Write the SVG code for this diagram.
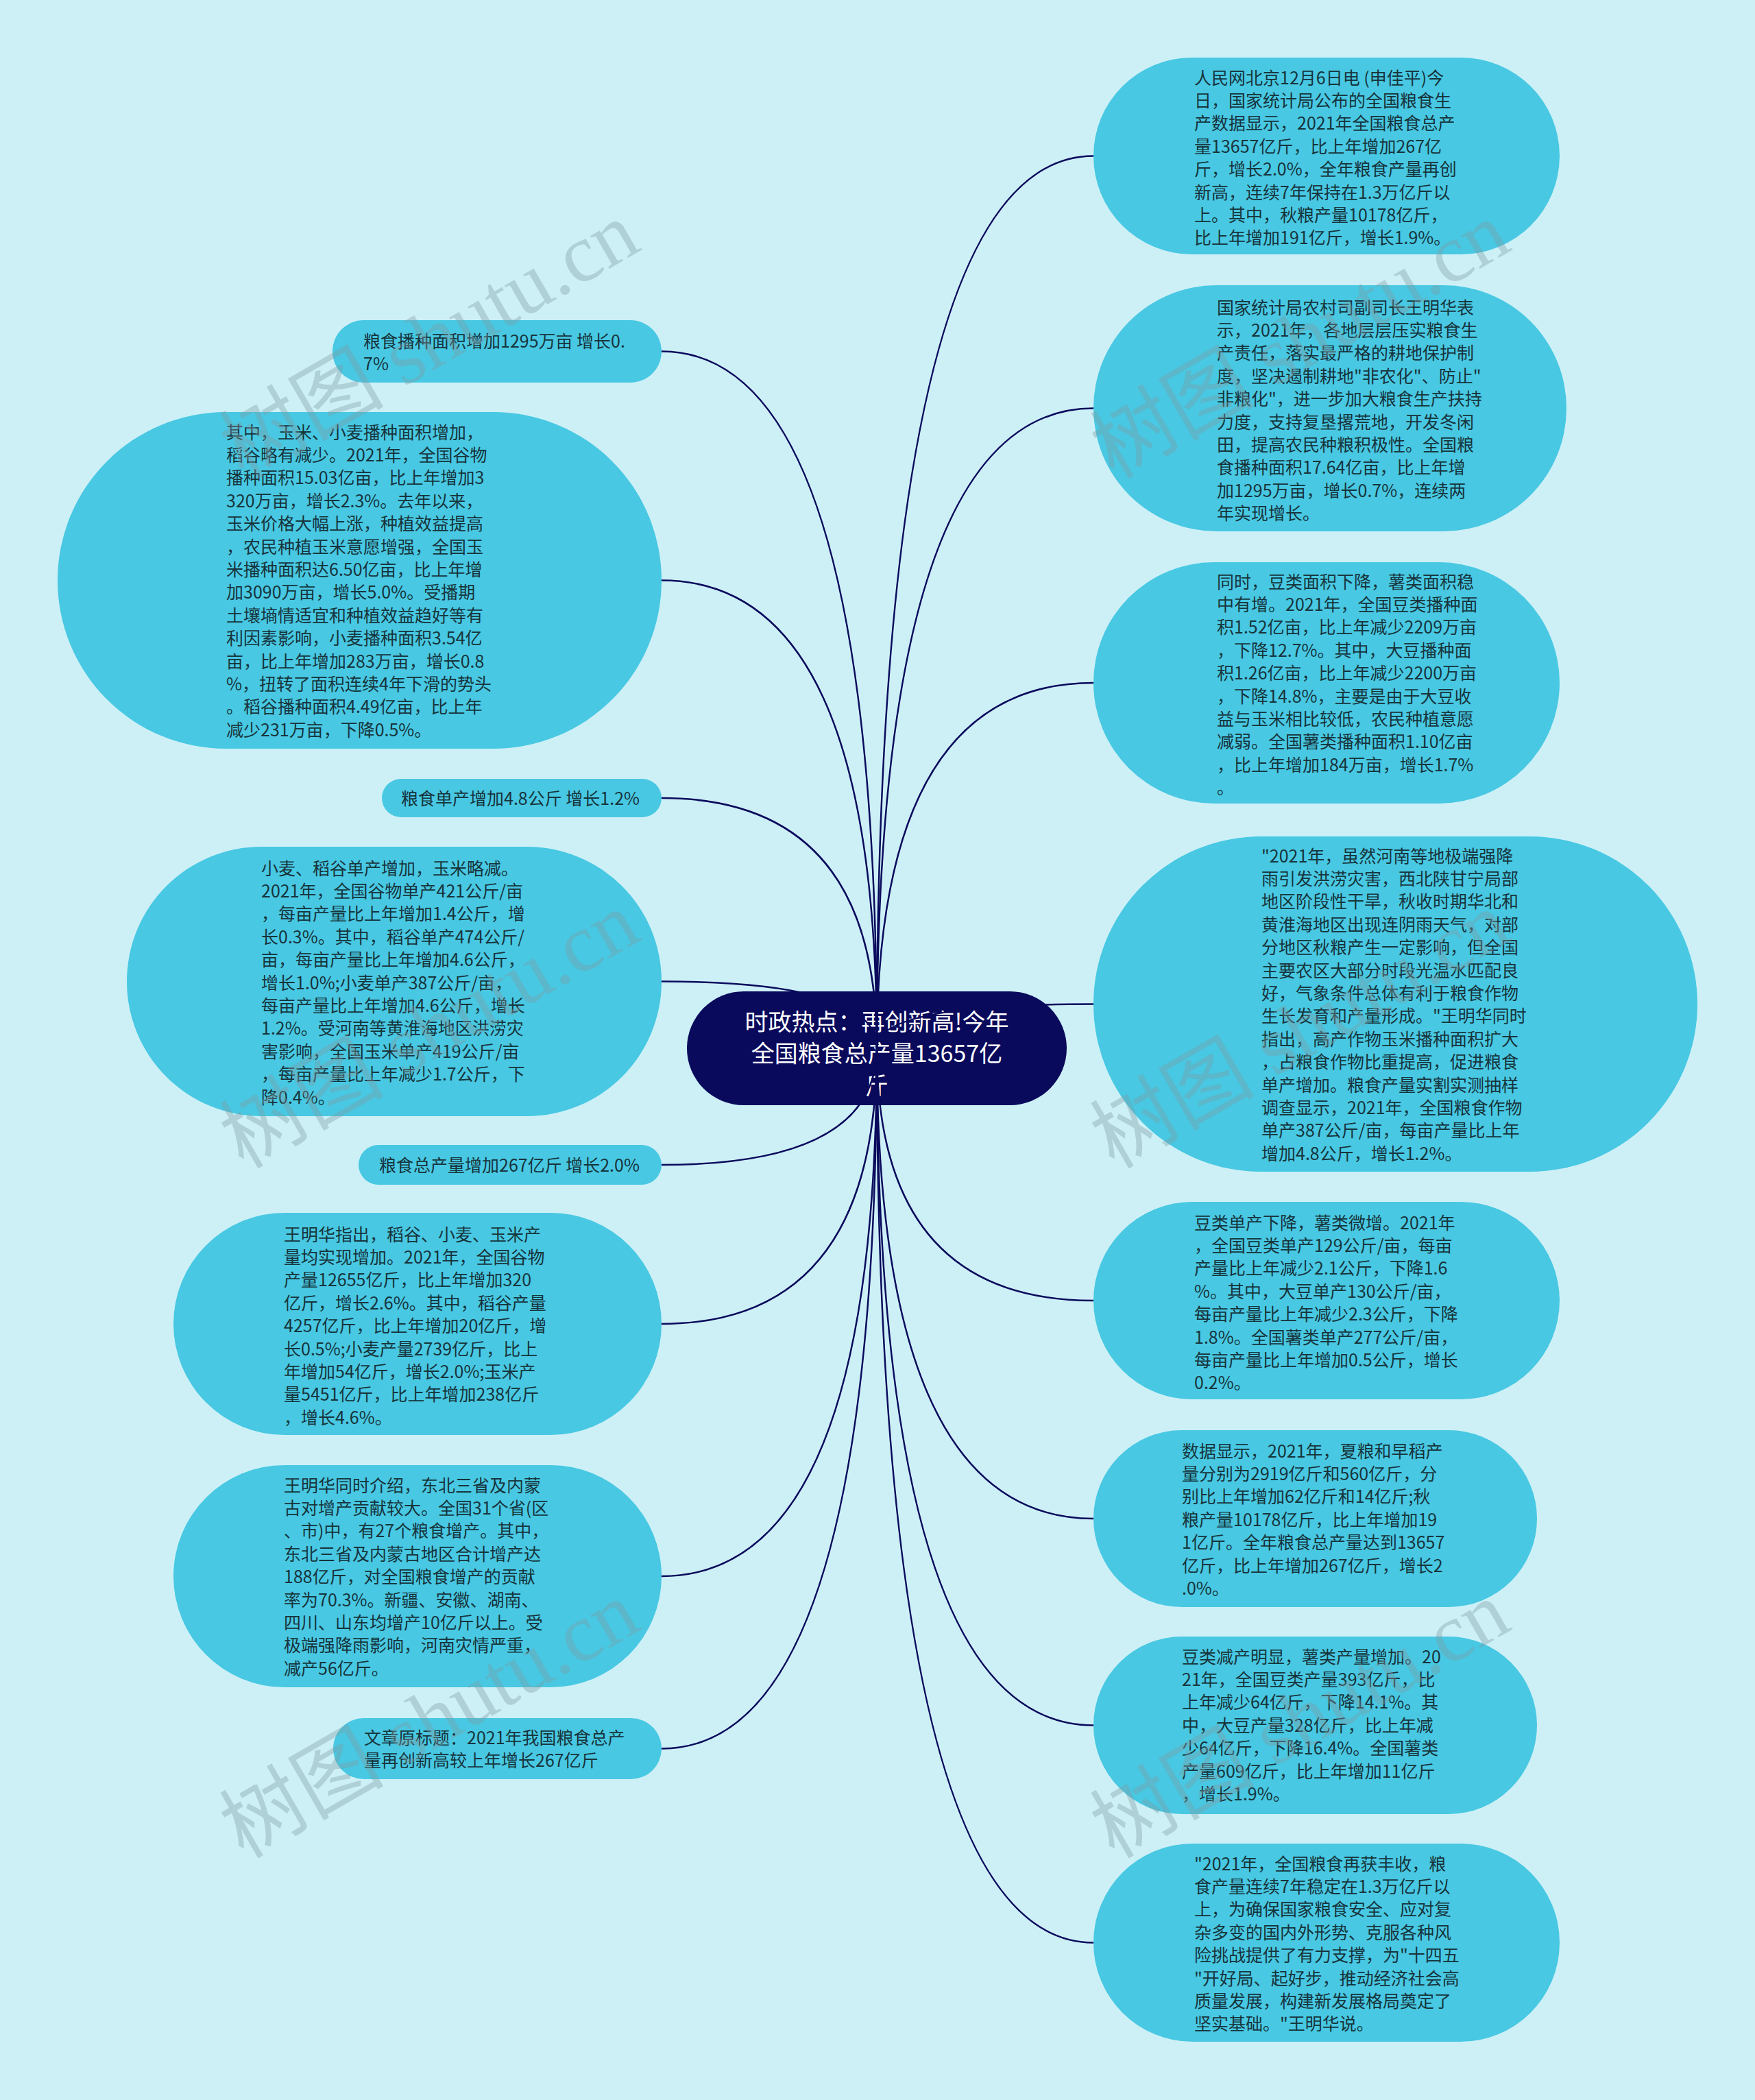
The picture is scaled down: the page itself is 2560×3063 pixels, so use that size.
<svg xmlns="http://www.w3.org/2000/svg" width="2560" height="3063" viewBox="0 0 2560 3063">
<style>
.node{fill:#48c8e2}
.t{font-family:"Noto Sans CJK SC","Noto Sans",sans-serif;font-size:25px;fill:#17343c}
.ct{font-family:"Noto Sans CJK SC","Noto Sans",sans-serif;font-size:34px;fill:#ffffff;text-anchor:middle}
.link{fill:none;stroke:#0a0a5c;stroke-width:2.5}
.wm{font-family:"Liberation Serif","Noto Sans CJK SC",serif;font-size:120px;fill:#7f9ba3;fill-opacity:0.38}
</style>
<rect x="0" y="0" width="2560" height="3063" fill="#cdf0f7"/>

<g id="center">
<rect x="1002" y="1446" width="554" height="166" rx="83" fill="#0a0a5c"/>
<text class="ct"><tspan x="1279" y="1503">时政热点：再创新高!今年</tspan><tspan x="1279" y="1549">全国粮食总产量13657亿</tspan><tspan x="1279" y="1596">斤</tspan></text>
</g>

<g id="connectors">
<path class="link" d="M1279,1528 Q1279,227.5 1595,227.5"/>
<path class="link" d="M1279,1528 Q1279,595.5 1595,595.5"/>
<path class="link" d="M1279,1528 Q1279,996 1595,996"/>
<path class="link" d="M1279,1528 Q1279,1464.5 1595,1464.5"/>
<path class="link" d="M1279,1528 Q1279,1897 1595,1897"/>
<path class="link" d="M1279,1528 Q1279,2215 1595,2215"/>
<path class="link" d="M1279,1528 Q1279,2516.5 1595,2516.5"/>
<path class="link" d="M1279,1528 Q1279,2833.5 1595,2833.5"/>
<path class="link" d="M1279,1528 Q1279,512.5 965,512.5"/>
<path class="link" d="M1279,1528 Q1279,846.5 965,846.5"/>
<path class="link" d="M1279,1528 Q1279,1164 965,1164"/>
<path class="link" d="M1279,1528 Q1279,1431.5 965,1431.5"/>
<path class="link" d="M1279,1528 Q1279,1699 965,1699"/>
<path class="link" d="M1279,1528 Q1279,1931 965,1931"/>
<path class="link" d="M1279,1528 Q1279,2299 965,2299"/>
<path class="link" d="M1279,1528 Q1279,2550.5 965,2550.5"/>
</g>

<g id="r1">
<rect class="node" x="1595" y="84" width="680" height="287" rx="143.5"/>
<text class="t"><tspan x="1742" y="122.5">人民网北京12月6日电 (申佳平)今</tspan><tspan x="1742" dy="33.4">日，国家统计局公布的全国粮食生</tspan><tspan x="1742" dy="33.4">产数据显示，2021年全国粮食总产</tspan><tspan x="1742" dy="33.4">量13657亿斤，比上年增加267亿</tspan><tspan x="1742" dy="33.4">斤，增长2.0%，全年粮食产量再创</tspan><tspan x="1742" dy="33.4">新高，连续7年保持在1.3万亿斤以</tspan><tspan x="1742" dy="33.4">上。其中，秋粮产量10178亿斤，</tspan><tspan x="1742" dy="33.4">比上年增加191亿斤，增长1.9%。</tspan></text>
</g>

<g id="r2">
<rect class="node" x="1595" y="416" width="690" height="359" rx="179.5"/>
<text class="t"><tspan x="1775" y="457.5">国家统计局农村司副司长王明华表</tspan><tspan x="1775" dy="33.4">示，2021年，各地层层压实粮食生</tspan><tspan x="1775" dy="33.4">产责任，落实最严格的耕地保护制</tspan><tspan x="1775" dy="33.4">度，坚决遏制耕地"非农化"、防止"</tspan><tspan x="1775" dy="33.4">非粮化"，进一步加大粮食生产扶持</tspan><tspan x="1775" dy="33.4">力度，支持复垦撂荒地，开发冬闲</tspan><tspan x="1775" dy="33.4">田，提高农民种粮积极性。全国粮</tspan><tspan x="1775" dy="33.4">食播种面积17.64亿亩，比上年增</tspan><tspan x="1775" dy="33.4">加1295万亩，增长0.7%，连续两</tspan><tspan x="1775" dy="33.4">年实现增长。</tspan></text>
</g>

<g id="r3">
<rect class="node" x="1595" y="820" width="680" height="352" rx="176"/>
<text class="t"><tspan x="1775" y="857.5">同时，豆类面积下降，薯类面积稳</tspan><tspan x="1775" dy="33.4">中有增。2021年，全国豆类播种面</tspan><tspan x="1775" dy="33.4">积1.52亿亩，比上年减少2209万亩</tspan><tspan x="1775" dy="33.4">，下降12.7%。其中，大豆播种面</tspan><tspan x="1775" dy="33.4">积1.26亿亩，比上年减少2200万亩</tspan><tspan x="1775" dy="33.4">，下降14.8%，主要是由于大豆收</tspan><tspan x="1775" dy="33.4">益与玉米相比较低，农民种植意愿</tspan><tspan x="1775" dy="33.4">减弱。全国薯类播种面积1.10亿亩</tspan><tspan x="1775" dy="33.4">，比上年增加184万亩，增长1.7%</tspan><tspan x="1775" dy="33.4">。</tspan></text>
</g>

<g id="r4">
<rect class="node" x="1595" y="1220" width="881" height="489" rx="244.5"/>
<text class="t"><tspan x="1840" y="1257.5">"2021年，虽然河南等地极端强降</tspan><tspan x="1840" dy="33.4">雨引发洪涝灾害，西北陕甘宁局部</tspan><tspan x="1840" dy="33.4">地区阶段性干旱，秋收时期华北和</tspan><tspan x="1840" dy="33.4">黄淮海地区出现连阴雨天气，对部</tspan><tspan x="1840" dy="33.4">分地区秋粮产生一定影响，但全国</tspan><tspan x="1840" dy="33.4">主要农区大部分时段光温水匹配良</tspan><tspan x="1840" dy="33.4">好，气象条件总体有利于粮食作物</tspan><tspan x="1840" dy="33.4">生长发育和产量形成。"王明华同时</tspan><tspan x="1840" dy="33.4">指出，高产作物玉米播种面积扩大</tspan><tspan x="1840" dy="33.4">，占粮食作物比重提高，促进粮食</tspan><tspan x="1840" dy="33.4">单产增加。粮食产量实割实测抽样</tspan><tspan x="1840" dy="33.4">调查显示，2021年，全国粮食作物</tspan><tspan x="1840" dy="33.4">单产387公斤/亩，每亩产量比上年</tspan><tspan x="1840" dy="33.4">增加4.8公斤，增长1.2%。</tspan></text>
</g>

<g id="r5">
<rect class="node" x="1595" y="1753" width="680" height="288" rx="144"/>
<text class="t"><tspan x="1742" y="1792.5">豆类单产下降，薯类微增。2021年</tspan><tspan x="1742" dy="33.4">，全国豆类单产129公斤/亩，每亩</tspan><tspan x="1742" dy="33.4">产量比上年减少2.1公斤，下降1.6</tspan><tspan x="1742" dy="33.4">%。其中，大豆单产130公斤/亩，</tspan><tspan x="1742" dy="33.4">每亩产量比上年减少2.3公斤，下降</tspan><tspan x="1742" dy="33.4">1.8%。全国薯类单产277公斤/亩，</tspan><tspan x="1742" dy="33.4">每亩产量比上年增加0.5公斤，增长</tspan><tspan x="1742" dy="33.4">0.2%。</tspan></text>
</g>

<g id="r6">
<rect class="node" x="1595" y="2086" width="647" height="258" rx="129"/>
<text class="t"><tspan x="1724" y="2125.5">数据显示，2021年，夏粮和早稻产</tspan><tspan x="1724" dy="33.4">量分别为2919亿斤和560亿斤，分</tspan><tspan x="1724" dy="33.4">别比上年增加62亿斤和14亿斤;秋</tspan><tspan x="1724" dy="33.4">粮产量10178亿斤，比上年增加19</tspan><tspan x="1724" dy="33.4">1亿斤。全年粮食总产量达到13657</tspan><tspan x="1724" dy="33.4">亿斤，比上年增加267亿斤，增长2</tspan><tspan x="1724" dy="33.4">.0%。</tspan></text>
</g>

<g id="r7">
<rect class="node" x="1595" y="2387" width="647" height="259" rx="129.5"/>
<text class="t"><tspan x="1724" y="2425.5">豆类减产明显，薯类产量增加。20</tspan><tspan x="1724" dy="33.4">21年，全国豆类产量393亿斤，比</tspan><tspan x="1724" dy="33.4">上年减少64亿斤，下降14.1%。其</tspan><tspan x="1724" dy="33.4">中，大豆产量328亿斤，比上年减</tspan><tspan x="1724" dy="33.4">少64亿斤，下降16.4%。全国薯类</tspan><tspan x="1724" dy="33.4">产量609亿斤，比上年增加11亿斤</tspan><tspan x="1724" dy="33.4">，增长1.9%。</tspan></text>
</g>

<g id="r8">
<rect class="node" x="1595" y="2689" width="680" height="289" rx="144.5"/>
<text class="t"><tspan x="1742" y="2727.5">"2021年，全国粮食再获丰收，粮</tspan><tspan x="1742" dy="33.4">食产量连续7年稳定在1.3万亿斤以</tspan><tspan x="1742" dy="33.4">上，为确保国家粮食安全、应对复</tspan><tspan x="1742" dy="33.4">杂多变的国内外形势、克服各种风</tspan><tspan x="1742" dy="33.4">险挑战提供了有力支撑，为"十四五</tspan><tspan x="1742" dy="33.4">"开好局、起好步，推动经济社会高</tspan><tspan x="1742" dy="33.4">质量发展，构建新发展格局奠定了</tspan><tspan x="1742" dy="33.4">坚实基础。"王明华说。</tspan></text>
</g>

<g id="l1">
<rect class="node" x="485" y="467" width="480" height="91" rx="45.5"/>
<text class="t"><tspan x="530" y="506.5">粮食播种面积增加1295万亩 增长0.</tspan><tspan x="530" dy="33.4">7%</tspan></text>
</g>

<g id="l2">
<rect class="node" x="84" y="601" width="881" height="491" rx="245.5"/>
<text class="t"><tspan x="330" y="639.5">其中，玉米、小麦播种面积增加，</tspan><tspan x="330" dy="33.4">稻谷略有减少。2021年，全国谷物</tspan><tspan x="330" dy="33.4">播种面积15.03亿亩，比上年增加3</tspan><tspan x="330" dy="33.4">320万亩，增长2.3%。去年以来，</tspan><tspan x="330" dy="33.4">玉米价格大幅上涨，种植效益提高</tspan><tspan x="330" dy="33.4">，农民种植玉米意愿增强，全国玉</tspan><tspan x="330" dy="33.4">米播种面积达6.50亿亩，比上年增</tspan><tspan x="330" dy="33.4">加3090万亩，增长5.0%。受播期</tspan><tspan x="330" dy="33.4">土壤墒情适宜和种植效益趋好等有</tspan><tspan x="330" dy="33.4">利因素影响，小麦播种面积3.54亿</tspan><tspan x="330" dy="33.4">亩，比上年增加283万亩，增长0.8</tspan><tspan x="330" dy="33.4">%，扭转了面积连续4年下滑的势头</tspan><tspan x="330" dy="33.4">。稻谷播种面积4.49亿亩，比上年</tspan><tspan x="330" dy="33.4">减少231万亩，下降0.5%。</tspan></text>
</g>

<g id="l3">
<rect class="node" x="557" y="1136" width="408" height="56" rx="28"/>
<text class="t" x="585" y="1174">粮食单产增加4.8公斤 增长1.2%</text>
</g>

<g id="l4">
<rect class="node" x="185" y="1235" width="780" height="393" rx="196.5"/>
<text class="t"><tspan x="381" y="1275.5">小麦、稻谷单产增加，玉米略减。</tspan><tspan x="381" dy="33.4">2021年，全国谷物单产421公斤/亩</tspan><tspan x="381" dy="33.4">，每亩产量比上年增加1.4公斤，增</tspan><tspan x="381" dy="33.4">长0.3%。其中，稻谷单产474公斤/</tspan><tspan x="381" dy="33.4">亩，每亩产量比上年增加4.6公斤，</tspan><tspan x="381" dy="33.4">增长1.0%;小麦单产387公斤/亩，</tspan><tspan x="381" dy="33.4">每亩产量比上年增加4.6公斤，增长</tspan><tspan x="381" dy="33.4">1.2%。受河南等黄淮海地区洪涝灾</tspan><tspan x="381" dy="33.4">害影响，全国玉米单产419公斤/亩</tspan><tspan x="381" dy="33.4">，每亩产量比上年减少1.7公斤，下</tspan><tspan x="381" dy="33.4">降0.4%。</tspan></text>
</g>

<g id="l5">
<rect class="node" x="523" y="1670" width="442" height="58" rx="29"/>
<text class="t" x="553" y="1708.5">粮食总产量增加267亿斤 增长2.0%</text>
</g>

<g id="l6">
<rect class="node" x="253" y="1769" width="712" height="324" rx="162"/>
<text class="t"><tspan x="414" y="1809.5">王明华指出，稻谷、小麦、玉米产</tspan><tspan x="414" dy="33.4">量均实现增加。2021年，全国谷物</tspan><tspan x="414" dy="33.4">产量12655亿斤，比上年增加320</tspan><tspan x="414" dy="33.4">亿斤，增长2.6%。其中，稻谷产量</tspan><tspan x="414" dy="33.4">4257亿斤，比上年增加20亿斤，增</tspan><tspan x="414" dy="33.4">长0.5%;小麦产量2739亿斤，比上</tspan><tspan x="414" dy="33.4">年增加54亿斤，增长2.0%;玉米产</tspan><tspan x="414" dy="33.4">量5451亿斤，比上年增加238亿斤</tspan><tspan x="414" dy="33.4">，增长4.6%。</tspan></text>
</g>

<g id="l7">
<rect class="node" x="253" y="2137" width="712" height="324" rx="162"/>
<text class="t"><tspan x="414" y="2175.5">王明华同时介绍，东北三省及内蒙</tspan><tspan x="414" dy="33.4">古对增产贡献较大。全国31个省(区</tspan><tspan x="414" dy="33.4">、市)中，有27个粮食增产。其中，</tspan><tspan x="414" dy="33.4">东北三省及内蒙古地区合计增产达</tspan><tspan x="414" dy="33.4">188亿斤，对全国粮食增产的贡献</tspan><tspan x="414" dy="33.4">率为70.3%。新疆、安徽、湖南、</tspan><tspan x="414" dy="33.4">四川、山东均增产10亿斤以上。受</tspan><tspan x="414" dy="33.4">极端强降雨影响，河南灾情严重，</tspan><tspan x="414" dy="33.4">减产56亿斤。</tspan></text>
</g>

<g id="l8">
<rect class="node" x="486" y="2506" width="479" height="89" rx="44.5"/>
<text class="t"><tspan x="531" y="2543.5">文章原标题：2021年我国粮食总产</tspan><tspan x="531" dy="33.4">量再创新高较上年增长267亿斤</tspan></text>
</g>

<g id="watermarks">
<text class="wm" transform="translate(355,700) rotate(-30)">树图 shutu.cn</text>
<text class="wm" transform="translate(1625,700) rotate(-30)">树图 shutu.cn</text>
<text class="wm" transform="translate(355,1706) rotate(-30)">树图 shutu.cn</text>
<text class="wm" transform="translate(1625,1706) rotate(-30)">树图 shutu.cn</text>
<text class="wm" transform="translate(355,2712) rotate(-30)">树图 shutu.cn</text>
<text class="wm" transform="translate(1625,2712) rotate(-30)">树图 shutu.cn</text>
</g>
</svg>
